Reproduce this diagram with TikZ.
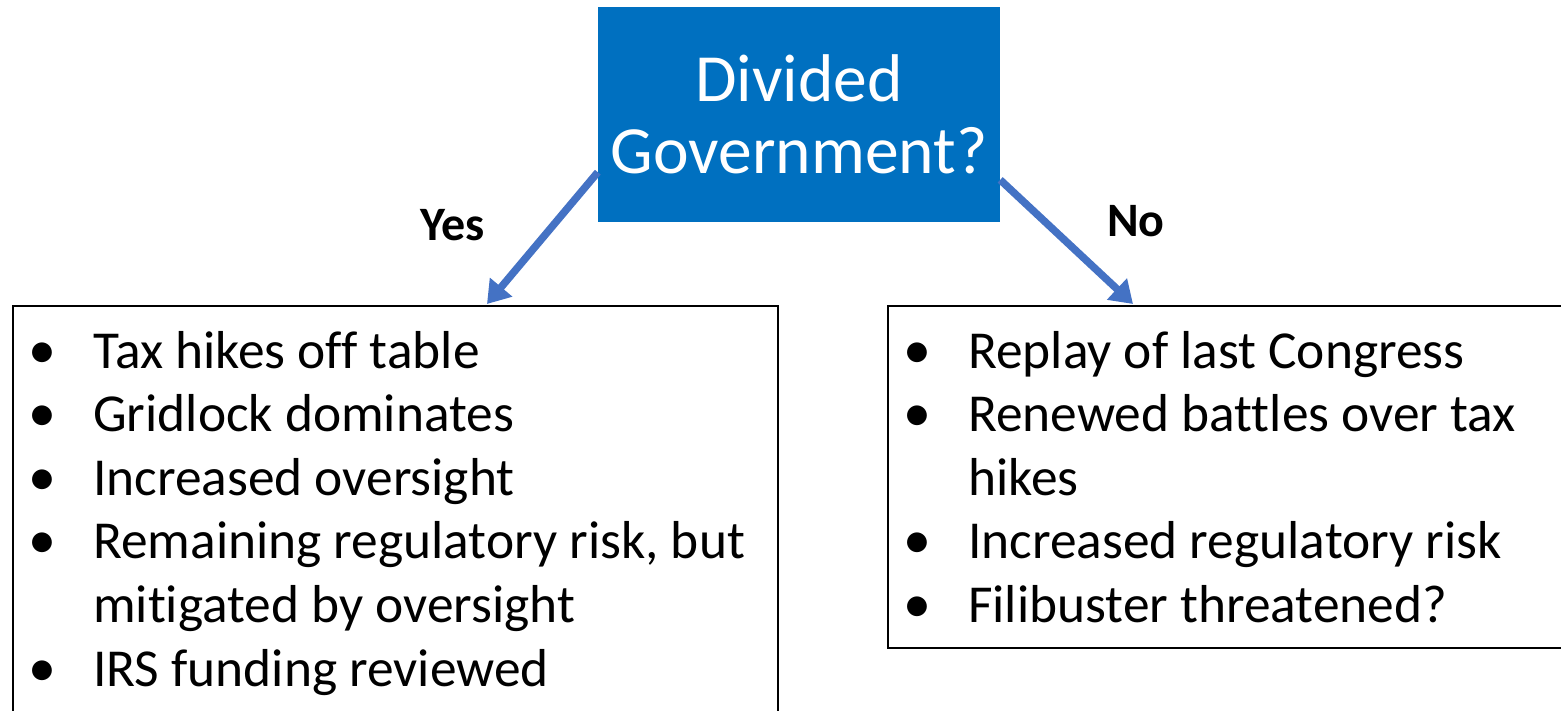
\documentclass[tikz,border=0pt]{standalone}
\usepackage{fontspec}
\setmainfont{Carlito}[Ligatures=CommonOff]
\usetikzlibrary{arrows.meta}
\definecolor{qblue}{RGB}{0,112,192}
\definecolor{arblue}{RGB}{68,114,196}
\tikzset{
  qbox/.style={fill=qblue, draw=none, minimum width=402pt, minimum height=215pt, inner sep=0pt,
    text=white, align=center, font=\fontsize{67.5}{72}\selectfont},
  branch/.style={draw=arblue, line width=7.5pt, -{Triangle[width=28pt,length=22pt]}},
  outbox/.style={draw=black, line width=1.8pt},
  ans/.style={anchor=base west, inner sep=0pt, font=\fontsize{48}{50}\selectfont\bfseries},
  bul/.style={anchor=base, inner sep=0pt, font=\fontsize{56}{63}\selectfont},
  itm/.style={anchor=base west, inner sep=0pt, font=\fontsize{53.4}{63}\selectfont},
}
\begin{document}
\begin{tikzpicture}[x=1pt,y=-1pt]
\useasboundingbox (0,0) rectangle (1561,711);
% question box
\node[qbox] (q) at (799,114.5) {Divided\\Government?};
% answer boxes
\draw[outbox] (13,306) rectangle (778,730);
\coordinate (Ltop) at (487,304);
\draw[outbox] (888,306) rectangle (1575,648);
\coordinate (Rtop) at (1133,304);
% arrows
\draw[branch] (q.196.75) -- (Ltop);
\draw[branch] (q.342.5) -- (Rtop);
\node[ans] (yes) at (420,241) {Yes};
\node[ans] (no) at (1107,237) {No};
% left list
\node[bul] (lb1) at (42,368) {•};
\node[itm] (l1) at (93,368) {Tax hikes off table};
\node[bul] (lb2) at (42,431.6) {•};
\node[itm] (l2) at (93,431.6) {Gridlock dominates};
\node[bul] (lb3) at (42,495.2) {•};
\node[itm] (l3) at (93,495.2) {Increased oversight};
\node[bul] (lb4) at (42,558.8) {•};
\node[itm] (l4) at (93,558.8) {Remaining regulatory risk, but};
\node[itm] (l4b) at (93,622.4) {mitigated by oversight};
\node[bul] (lb5) at (42,686) {•};
\node[itm] (l5) at (93,686) {IRS funding reviewed};
% right list
\node[bul] (rb1) at (917,368) {•};
\node[itm] (r1) at (968,368) {Replay of last Congress};
\node[bul] (rb2) at (917,431.6) {•};
\node[itm] (r2) at (968,431.6) {Renewed battles over tax};
\node[itm] (r2b) at (968,495.2) {hikes};
\node[bul] (rb3) at (917,558.8) {•};
\node[itm] (r3) at (968,558.8) {Increased regulatory risk};
\node[bul] (rb4) at (917,622.4) {•};
\node[itm] (r4) at (968,622.4) {Filibuster threatened?};
\end{tikzpicture}
\end{document}
